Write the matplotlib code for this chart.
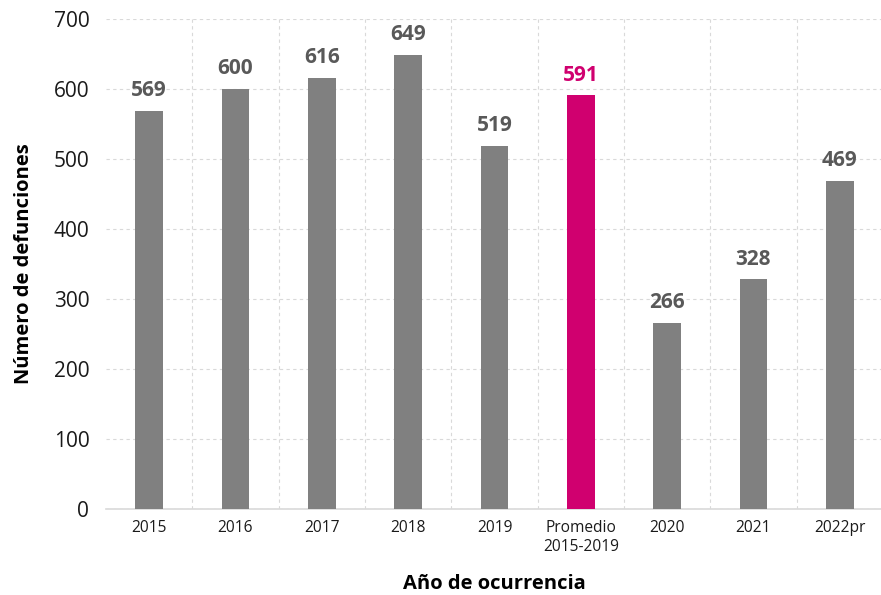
import matplotlib
matplotlib.use("Agg")
import matplotlib.pyplot as plt
import numpy as np

categories = ["2015", "2016", "2017", "2018", "2019", "Promedio\n2015-2019", "2020", "2021", "2022pr"]
values = [569, 600, 616, 649, 519, 591, 266, 328, 469]
highlight = "Promedio\n2015-2019"

plt.rcParams['font.family'] = ['Open Sans', 'DejaVu Sans']

fig = plt.figure(figsize=(8.81, 5.95), dpi=100)
ax = fig.add_axes([106/881, 1 - 509/595, (883-106)/881, (509-19)/595])

x = np.arange(len(categories))
colors = ["#D0006F" if c == highlight else "#808080" for c in categories]
ax.bar(x, values, width=0.32, color=colors, zorder=3)

for xi, v, c in zip(x, values, categories):
    col = "#D0006F" if c == highlight else "#595959"
    ax.annotate(f"{v}", (xi, v), xytext=(0, 7), textcoords="offset points",
                ha="center", va="bottom", fontsize=15, fontweight="bold", color=col)

ax.set_xlim(-0.5, len(categories) - 0.5)
ax.set_ylim(0, 700)
ax.set_yticks(range(0, 701, 100))
ax.set_xticks(x)
ax.set_xticklabels(categories, fontsize=11.2)
ax.tick_params(axis='y', labelsize=15, length=0, pad=12, labelcolor="#1a1a1a")
ax.tick_params(axis='x', length=0, pad=8, labelcolor="#1a1a1a")

ax.set_xticks(np.arange(0.5, len(categories) - 0.5, 1), minor=True)
ax.grid(True, axis='y', which='major', linestyle=(0, (3, 3)), color="#D9D9D9", linewidth=0.8, zorder=0)
ax.grid(True, axis='x', which='minor', linestyle=(0, (3, 3)), color="#D9D9D9", linewidth=0.8, zorder=0)
ax.grid(False, axis='x', which='major')
ax.tick_params(axis='x', which='minor', length=0)

for s in ["top", "right", "left"]:
    ax.spines[s].set_visible(False)
ax.spines["bottom"].set_color("#D9D9D9")
ax.spines["bottom"].set_linewidth(1.2)

ax.set_xlabel("Año de ocurrencia", fontsize=14.5, fontweight="bold", labelpad=14)
ax.set_ylabel("Número de defunciones", fontsize=14.5, fontweight="bold", labelpad=14)

fig.savefig("out.png", dpi=100)
